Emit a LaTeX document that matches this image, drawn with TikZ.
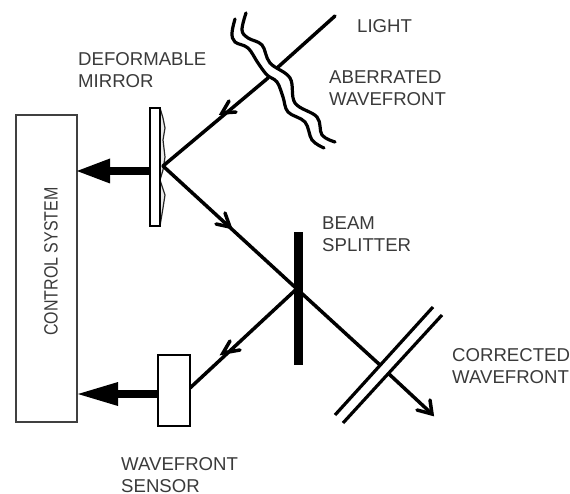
\documentclass[tikz,border=0pt]{standalone}
\usepackage{fontspec}
\setmainfont{Liberation Sans}
\usetikzlibrary{arrows.meta}
\definecolor{txt}{HTML}{3A3A3A}
\tikzset{
  x=1pt,y=-1pt,
  lbl/.style={text=txt,font=\fontsize{18.6}{22.5}\selectfont,align=left,anchor=west,inner sep=0pt},
  beam/.style={line width=3.5pt,line cap=round},
  barb/.style={line width=3.5pt,line cap=round,line join=miter},
  wave/.style={line width=3.2pt,line cap=round},
  plate/.style={line width=3.2pt},
  box/.style={draw=black,line width=2pt,fill=white,inner sep=0pt,minimum width=32pt,minimum height=71pt},
  thick arrow/.style={line width=8.5pt},
}
\begin{document}
\begin{tikzpicture}
\useasboundingbox (0,0) rectangle (570,494);
% control system
\node[draw=black!75,line width=1.3pt,minimum width=61pt,minimum height=307pt,inner sep=0pt] (ctrl) at (46.5,268.5) {};
\node[rotate=90,text=txt,font=\fontsize{16}{20}\selectfont,inner sep=0pt] (ctrltext) at (51,261.5) {\scalebox{1}[1.2]{CONTROL SYSTEM}};
% coordinates
\coordinate (light) at (335,16);
\coordinate (wfA) at (277,68);
\coordinate (wfB) at (268,78);
\coordinate (dm) at (163,166);
\coordinate (bs) at (297,289);
\coordinate (cwA) at (380,365);
\coordinate (cwB) at (389,374);
\coordinate (out) at (432,414);
\coordinate (ctrlA) at (77,171);
\coordinate (ctrlB) at (78,394);
% deformable mirror
\draw[line width=1.2pt,black!85,fill=black!8] (159,108) -- (160,108) -- (163,118) -- (165,128) -- (163,140) -- (165,157) -- (163,170) -- (160,180) -- (165,195) -- (163,208) -- (160,226) -- (159,226) -- cycle;
\node[draw=black,line width=2pt,fill=white,minimum width=9.5pt,minimum height=118pt,inner sep=0pt] (mirror) at (154.75,167) {};
% beams
\draw[beam] (light) -- (wfA);
\draw[beam] (wfB) -- (dm);
\draw[beam] (dm) -- (bs);
\draw[beam] (bs) -- (cwA);
\draw[beam] (cwB) -- (out);
% arrow barbs
\draw[barb] (229,101) -- (222,113) -- (236,112);
\draw[barb] (225,213) -- (230,227) -- (216,224);
\draw[barb] (230,341) -- (223,353) -- (240,350);
\draw[barb] (430,400) -- (432,414) -- (417,410);
% wavefront aberrated
\draw[wave] plot[smooth,tension=.6] coordinates {(235,19) (232,33) (235,42) (248,48) (258,63) (267,75) (277,82) (283,97) (288,112) (305,122) (312,140) (324,148)};
\draw[wave] plot[smooth,tension=.6] coordinates {(246,13) (242,30) (248,38) (262,45) (270,63) (290,78) (295,103) (317,117) (322,135) (335,142)};
% beam splitter
\node[fill=black,minimum width=9pt,minimum height=133pt,inner sep=0pt] (splitter) at (298,298.5) {};
\draw[beam] (splitter.center) ++(-2,-9) -- (190,388);
% corrected wavefront
\draw[plate] (335,415) -- (433,307);
\draw[plate] (343,423) -- (442,315);
% sensor
\node[box] (sensor) at (174,390.5) {};
% thick arrows
\draw[thick arrow] (mirror.west |- ctrlA) -- (105,171);
\fill (ctrlA) -- (110,158.5) -- (110,183.5) -- cycle;
\draw[thick arrow] (sensor.west |- ctrlB) -- (113,394);
\fill (ctrlB) -- (118,382) -- (118,406) -- cycle;
% labels
\node[lbl] (l1) at (357,26) {LIGHT};
\node[lbl] (l2) at (329,88) {ABERRATED\\WAVEFRONT};
\node[lbl] (l3) at (78,70) {DEFORMABLE\\MIRROR};
\node[lbl] (l4) at (322,234) {BEAM\\SPLITTER};
\node[lbl] (l5) at (452,366) {CORRECTED\\WAVEFRONT};
\node[lbl] (l6) at (121,475) {WAVEFRONT\\SENSOR};
\end{tikzpicture}
\end{document}
